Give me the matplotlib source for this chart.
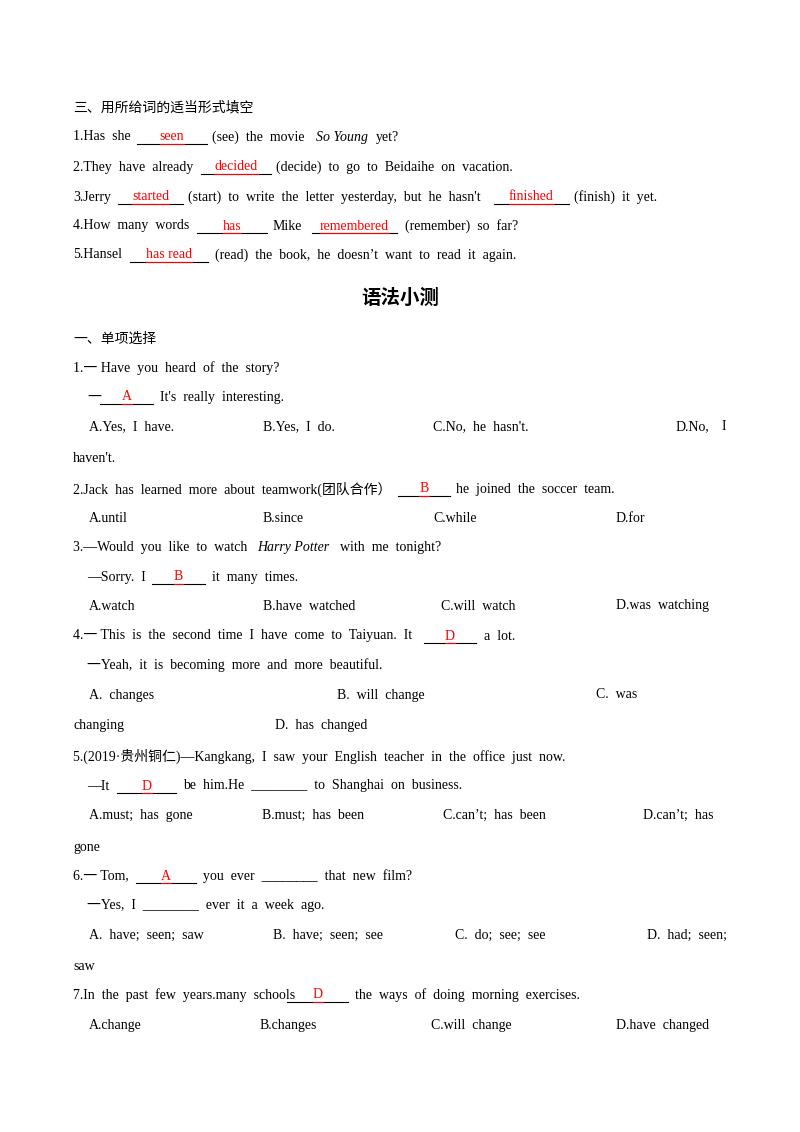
import matplotlib
matplotlib.use("Agg")
import matplotlib.pyplot as plt

W, H = 800, 1132
FAM = ['Liberation Serif', 'Noto Sans CJK SC', 'DejaVu Sans']
RED = '#ff0000'

title = "语法小测"
title_y = 298

# each line: (y, [segments]); segment: ('t', x, text) | ('i', x, text) | ('B', x0, x1, answer)
lines = [
    (108, [('t', 73, "三、用所给词的适当形式填空")]),
    (137, [('t', 73, "1.Has  she"), ('B', 137, 207, "seen"), ('t', 212, "(see)  the  movie"),
           ('i', 316, "So Young"), ('t', 376, "yet?")]),
    (167, [('t', 73, "2.They  have  already"), ('B', 201, 271, "decided"),
           ('t', 276, "(decide)  to  go  to  Beidaihe  on  vacation.")]),
    (197, [('t', 73, "3.Jerry"), ('B', 118, 183, "started"),
           ('t', 188, "(start)  to  write  the  letter  yesterday,  but  he  hasn't"),
           ('B', 494, 569, "finished"), ('t', 574, "(finish)  it  yet.")]),
    (226, [('t', 73, "4.How  many  words"), ('B', 197, 267, "has"), ('t', 273, "Mike"),
           ('B', 312, 397, "remembered"), ('t', 405, "(remember)  so  far?")]),
    (255, [('t', 73, "5.Hansel"), ('B', 130, 208, "has read"),
           ('t', 215, "(read)  the  book,  he  doesn’t  want  to  read  it  again.")]),
    (339, [('t', 73, "一、单项选择")]),
    (368, [('t', 73, "1.一 Have  you  heard  of  the  story?")]),
    (397, [('t', 87, "一"), ('B', 100, 153, "A"), ('t', 160, "It's  really  interesting.")]),
    (427, [('t', 89, "A.Yes,  I  have."), ('t', 263, "B.Yes,  I  do."), ('t', 433, "C.No,  he  hasn't."),
           ('t', 676, "D.No,"), ('t', 722, "I")]),
    (458, [('t', 73, "haven't.")]),
    (489, [('t', 73, "2.Jack  has  learned  more  about  teamwork(团队合作）"), ('B', 398, 450, "B"),
           ('t', 456, "he  joined  the  soccer  team.")]),
    (518, [('t', 89, "A.until"), ('t', 263, "B.since"), ('t', 433, "C.while"), ('t', 616, "D.for")]),
    (547, [('t', 73, "3.—Would  you  like  to  watch"), ('i', 257, "Harry Potter"),
           ('t', 340, "with  me  tonight?")]),
    (577, [('t', 87, "—Sorry.  I"), ('B', 152, 205, "B"), ('t', 212, "it  many  times.")]),
    (606, [('t', 89, "A.watch"), ('t', 263, "B.have  watched"), ('t', 441, "C.will  watch"),
           ('t', 616, "D.was  watching")]),
    (636, [('t', 73, "4.一 This  is  the  second  time  I  have  come  to  Taiyuan.  It"),
           ('B', 424, 476, "D"), ('t', 484, "a  lot.")]),
    (665, [('t', 87, "一Yeah,  it  is  becoming  more  and  more  beautiful.")]),
    (695, [('t', 89, "A.  changes"), ('t', 337, "B.  will  change"), ('t', 596, "C.  was")]),
    (726, [('t', 73, "changing"), ('t', 275, "D.  has  changed")]),
    (756, [('t', 73, "5.(2019·贵州铜仁)—Kangkang,  I  saw  your  English  teacher  in  the  office  just  now.")]),
    (786, [('t', 87, "—It"), ('B', 117, 176, "D"),
           ('t', 183, "be  him.He  ________  to  Shanghai  on  business.")]),
    (815, [('t', 89, "A.must;  has  gone"), ('t', 262, "B.must;  has  been"),
           ('t', 443, "C.can’t;  has  been"), ('t', 643, "D.can’t;  has")]),
    (847, [('t', 73, "gone")]),
    (876, [('t', 73, "6.一 Tom,"), ('B', 136, 196, "A"), ('t', 203, "you  ever  ________  that  new  film?")]),
    (905, [('t', 87, "一Yes,  I  ________  ever  it  a  week  ago.")]),
    (935, [('t', 89, "A.  have;  seen;  saw"), ('t', 273, "B.  have;  seen;  see"),
           ('t', 455, "C.  do;  see;  see"), ('t', 647, "D.  had;  seen;")]),
    (966, [('t', 73, "saw")]),
    (995, [('t', 73, "7.In  the  past  few  years.many  schools"), ('B', 287, 348, "D"),
           ('t', 355, "the  ways  of  doing  morning  exercises.")]),
    (1025, [('t', 89, "A.change"), ('t', 260, "B.changes"), ('t', 431, "C.will  change"),
            ('t', 616, "D.have  changed")]),
]

fig = plt.figure(figsize=(W / 100, H / 100), dpi=100)
fig.patch.set_facecolor('white')
ax = fig.add_axes([0, 0, 1, 1])
ax.set_xlim(0, W)
ax.set_ylim(H, 0)
ax.axis('off')

FS = 10
ax.text(400, title_y, title, ha='center', va='center', fontsize=14, fontweight='bold', family=FAM)

answers = []
for y, segs in lines:
    for s in segs:
        if s[0] == 't':
            ax.text(s[1], y, s[2], ha='left', va='center', fontsize=FS, family=FAM)
        elif s[0] == 'i':
            ax.text(s[1], y, s[2], ha='left', va='center', fontsize=FS, family=FAM, style='italic')
        else:
            _, x0, x1, ans = s
            ax.plot([x0, x1], [y + 7, y + 7], color='black', lw=0.8)
            t = ax.text((x0 + x1) / 2, y, ans, ha='center', va='center', fontsize=FS,
                        family=FAM, color=RED)
            answers.append((t, y))

fig.canvas.draw()
r = fig.canvas.get_renderer()
inv = ax.transData.inverted()
for t, y in answers:
    bb = t.get_window_extent(r)
    (xa, _), (xb, _) = inv.transform([(bb.x0, bb.y0), (bb.x1, bb.y1)])
    ax.plot([xa, xb], [y + 7, y + 7], color=RED, lw=0.8)

fig.savefig('out.png', dpi=100, facecolor='white')
